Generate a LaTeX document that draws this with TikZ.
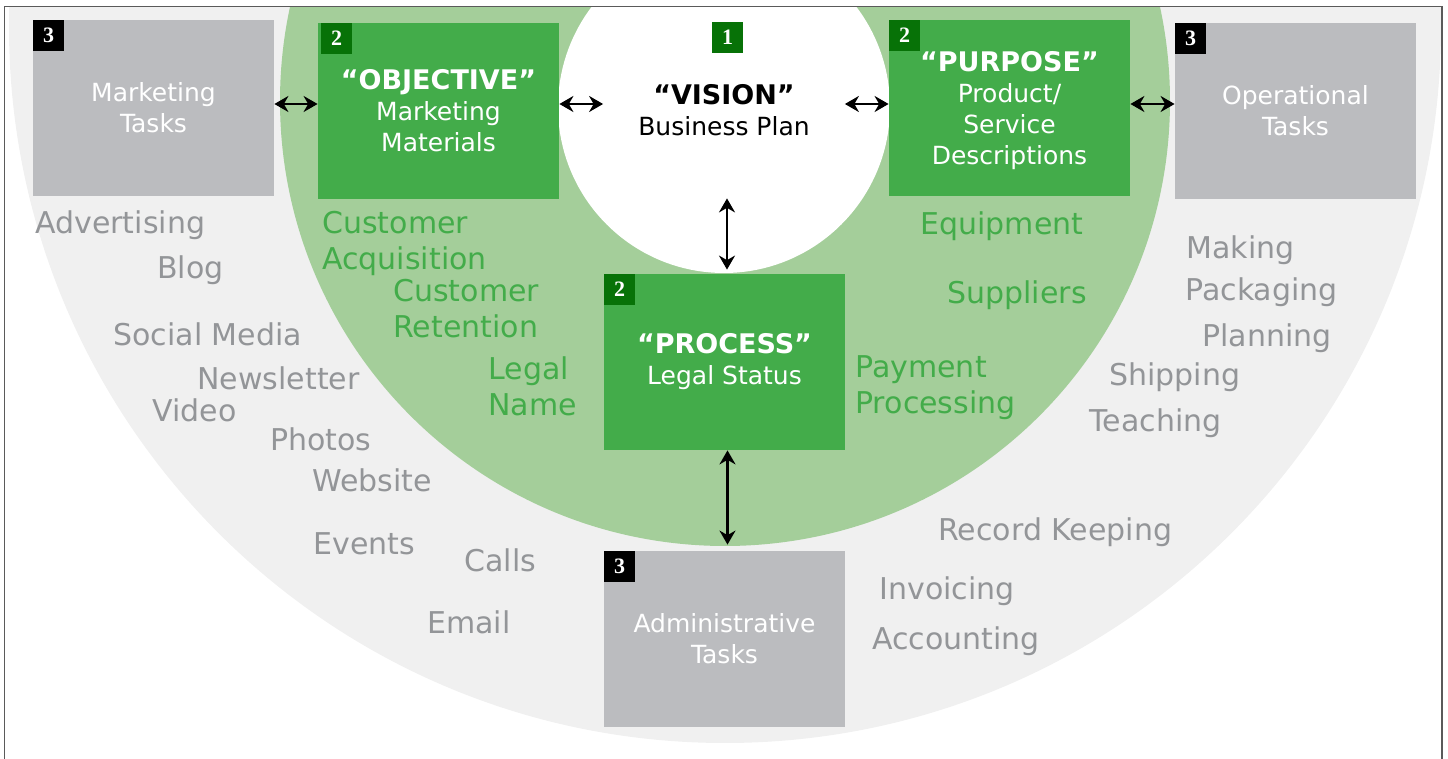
\documentclass[tikz,border=0pt]{standalone}
\usepackage{fontspec}
\setmainfont{DejaVu Sans}
\newfontfamily\badgefont{Liberation Serif}
\usepackage{tikz}
\usetikzlibrary{arrows.meta}
\usetikzlibrary{positioning}

\definecolor{ringgray}{HTML}{F0F0F0}
\definecolor{ringgreen}{HTML}{A4CE9A}
\definecolor{boxgreen}{HTML}{43AC4A}
\definecolor{badgegreen}{HTML}{077207}
\definecolor{boxgray}{HTML}{BBBCBF}
\definecolor{textgray}{HTML}{939598}
\definecolor{framegray}{HTML}{5A5A5A}

\newcommand\boxtitle[1]{{\fontsize{13.5}{15.5}\selectfont\bfseries #1}}

\tikzset{
  taskbox/.style={fill=boxgray, text=white, minimum width=120.5pt, minimum height=88pt,
    inner sep=0pt, align=center, font=\fontsize{12.5}{15.5}\selectfont},
  corebox/.style={taskbox, fill=boxgreen},
  visionbox/.style={taskbox, fill=none, text=black},
  badge/.style={fill=black, text=white, minimum size=15.5pt, inner sep=0pt,
    anchor=north west, font=\badgefont\bfseries\fontsize{11}{11}\selectfont},
  corebadge/.style={badge, fill=badgegreen},
  graylabel/.style={text=textgray, anchor=base west, inner sep=0pt, align=left,
    yshift=-1pt, font=\fontsize{15}{18}\selectfont},
  greenlabel/.style={graylabel, text=boxgreen},
  link/.style={<->, >={Stealth[length=7pt,width=8pt]}, line width=1.3pt}
}

\begin{document}
\begin{tikzpicture}[x=0.5pt, y=-0.5pt]
\useasboundingbox (0,0) rectangle (1448,759);

\begin{scope}
\clip (5,7) rectangle (1441.5,759);
\fill[ringgray] (725,27) circle [radius=358pt];
\fill[ringgreen] (725,101) circle [radius=222.5pt];
\fill[white] (724,107) circle [radius=83pt];
\end{scope}
\draw[framegray, line width=0.75pt] (4.5,759) -- (4.5,6.5) -- (1442,6.5) -- (1442,759);

\node[visionbox] (vision) at (724,110) {\boxtitle{“VISION”}\\Business Plan};
\node[corebadge, anchor=center] (visionnum) at (727.5,37.5) {1};

\node[taskbox] (mkt) at (153.5,108) {Marketing\\Tasks};
\node[corebox] (obj) at (438.5,111) {\boxtitle{“OBJECTIVE”}\\Marketing\\Materials};
\node[corebox] (purp) at (1009.5,108) {};
\node[text=white, align=center, font=\fontsize{12.5}{15.5}\selectfont] (purptext) at (1009.5,111)
  {\boxtitle{“PURPOSE”}\\Product/\\Service\\Descriptions};
\node[taskbox] (ops) at (1295.5,111) {Operational\\Tasks};
\node[corebox] (proc) at (724.5,362) {\boxtitle{“PROCESS”}\\Legal Status};
\node[taskbox] (adm) at (724.5,639) {Administrative\\Tasks};

\node[badge] (mktnum) at (mkt.north west) {3};
\node[corebadge] (objnum) at ([xshift=1.5pt]obj.north west) {2};
\node[corebadge] (purpnum) at (purp.north west) {2};
\node[badge] (opsnum) at (ops.north west) {3};
\node[corebadge] (procnum) at (proc.north west) {2};
\node[badge] (admnum) at (adm.north west) {3};

\draw[link] ([yshift=2pt]mkt.east) -- ([yshift=2pt]mkt.east -| obj.west);
\draw[link] ([yshift=3.5pt]obj.east) -- ([yshift=3.5pt]obj.east -| vision.west);
\draw[link] ([yshift=3pt]vision.east) -- ([yshift=3pt]vision.east -| purp.west);
\draw[link] ([yshift=2pt]purp.east) -- ([yshift=2pt]purp.east -| ops.west);
\draw[link, shorten >=2pt] ([xshift=1.5pt]vision.south) -- ([xshift=1.5pt]vision.south |- proc.north);
\draw[link, shorten >=3pt] ([xshift=1.5pt]proc.south) -- ([xshift=1.5pt]proc.south |- adm.north);

\node[graylabel] (advertising) at (35,232) {Advertising};
\node[graylabel] (blog) at (157,277) {Blog};
\node[graylabel] (social) at (113,344) {Social Media};
\node[graylabel] (newsletter) at (197,388) {Newsletter};
\node[graylabel] (video) at (152,420) {Video};
\node[graylabel] (photos) at (270,449) {Photos};
\node[graylabel] (website) at (312,490) {Website};
\node[graylabel] (events) at (313,553) {Events};
\node[graylabel] (calls) at (464,570) {Calls};
\node[graylabel] (email) at (427,631) {Email};

\node[greenlabel] (acquisition) at (322,268) {Customer\\Acquisition};
\node[greenlabel] (retention) at (393,336) {Customer\\Retention};
\node[greenlabel] (legalname) at (488,414) {Legal\\Name};
\node[greenlabel] (equipment) at (920,233) {Equipment};
\node[greenlabel] (suppliers) at (947,302) {Suppliers};
\node[greenlabel] (payment) at (855,412) {Payment\\Processing};

\node[graylabel] (making) at (1186,257) {Making};
\node[graylabel] (packaging) at (1185,299) {Packaging};
\node[graylabel] (planning) at (1202,345) {Planning};
\node[graylabel] (shipping) at (1109,384) {Shipping};
\node[graylabel] (teaching) at (1089,430) {Teaching};
\node[graylabel] (records) at (938,539) {Record Keeping};
\node[graylabel] (invoicing) at (879,598) {Invoicing};
\node[graylabel] (accounting) at (872,647) {Accounting};
\end{tikzpicture}
\end{document}
